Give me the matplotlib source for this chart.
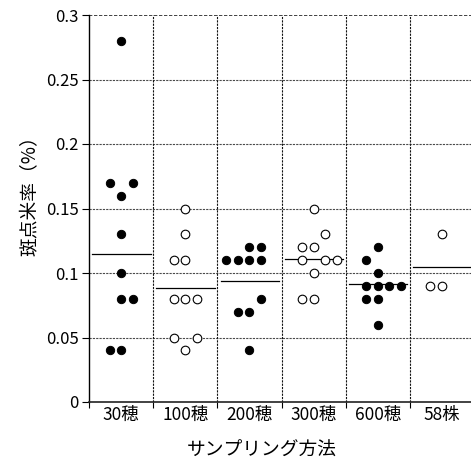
import matplotlib
matplotlib.use("Agg")
import matplotlib.pyplot as plt

plt.rcParams['font.family'] = ['Noto Sans CJK JP', 'DejaVu Sans']

categories = ["30穂", "100穂", "200穂", "300穂", "600穂", "58株"]
filled = [True, False, True, False, True, False]

v30 = [0.28, 0.17, 0.17, 0.16, 0.13, 0.10, 0.08, 0.08, 0.04, 0.04]
v100 = [0.15, 0.13, 0.11, 0.11, 0.08, 0.08, 0.08, 0.05, 0.05, 0.04]
v200 = [0.12, 0.12, 0.11, 0.11, 0.11, 0.11, 0.08, 0.07, 0.07, 0.04]
v300 = [0.15, 0.13, 0.12, 0.12, 0.11, 0.11, 0.11, 0.10, 0.08, 0.08]
v600 = [0.12, 0.11, 0.10, 0.09, 0.09, 0.09, 0.09, 0.08, 0.08, 0.06]
v58 = [0.13, 0.09, 0.09]

# horizontal stacking slot of each dot within its column
s30 = [0, -1, 1, 0, 0, 0, 0, 1, -1, 0]
s100 = [0, 0, -1, 0, -1, 0, 1, -1, 1, 0]
s200 = [0, 1, -2, -1, 0, 1, 1, -1, 0, 0]
s300 = [0, 1, -1, 0, -1, 1, 2, 0, -1, 0]
s600 = [0, -1, 0, -1, 0, 1, 2, -1, 0, 0]
s58 = [0, -1, 0]

line_values = [0.1145, 0.088, 0.094, 0.111, 0.0915, 0.105]

y_ticks = [0, 0.05, 0.1, 0.15, 0.2, 0.25, 0.3]
y_ticklabels = ["0", "0.05", "0.1", "0.15", "0.2", "0.25", "0.3"]

groups = [v30, v100, v200, v300, v600, v58]
slots = [s30, s100, s200, s300, s600, s58]

W, H = 471, 463
fig = plt.figure(figsize=(W / 100, H / 100), dpi=100)
ax = fig.add_axes([89 / W, (H - 402) / H, 385 / W, 387 / H])
ax.set_xlim(0, 6)
ax.set_ylim(0, 0.3)

step = 0.179
# grid
for yv in y_ticks[1:-1]:
    ax.axhline(yv, color='#4a4a4a', lw=0.8, ls=(0, (2, 1)), zorder=1)
ax.axhline(0.3, color='#222222', lw=1.2, ls=(0, (2, 1)), zorder=1)
for xv in range(1, 6):
    ax.axvline(xv, color='#111111', lw=0.8, ls=(0, (2, 1)), zorder=1)

for i, (vals, sl) in enumerate(zip(groups, slots)):
    xs = [i + 0.5 + s * step for s in sl]
    if filled[i]:
        ax.plot(xs, vals, 'o', ms=6, mfc='black', mec='black', mew=0.7, ls='none', zorder=3)
    else:
        ax.plot(xs, vals, 'o', ms=6.2, mfc='white', mec='black', mew=0.8, ls='none', zorder=3)
    ax.plot([i + 0.05, i + 0.96], [line_values[i], line_values[i]], color='black', lw=0.9, zorder=2)

for sp in ['top', 'right']:
    ax.spines[sp].set_visible(False)
ax.spines['left'].set_color('black')
ax.spines['left'].set_linewidth(1.0)
ax.spines['bottom'].set_color('#222222')
ax.spines['bottom'].set_linewidth(1.2)

ax.set_yticks(y_ticks)
ax.set_yticklabels(y_ticklabels, fontsize=12)
ax.tick_params(axis='y', direction='out', length=5, width=0.8, pad=2.5)

ax.set_xticks(range(0, 7))
ax.set_xticklabels([])
ax.tick_params(axis='x', which='major', direction='out', length=4, width=0.8)
ax.set_xticks([i + 0.5 for i in range(6)], minor=True)
ax.set_xticklabels(categories, minor=True, fontsize=12.5)
ax.tick_params(axis='x', which='minor', length=0, pad=3)

fig.text(262 / W, 1 - 450 / H, "サンプリング方法", ha='center', va='center', fontsize=13.5)
fig.text(30 / W, 1 - 191 / H, "斑点米率（%）", ha='center', va='center', rotation=90, fontsize=13.5)

fig.savefig("out.png", dpi=100)
